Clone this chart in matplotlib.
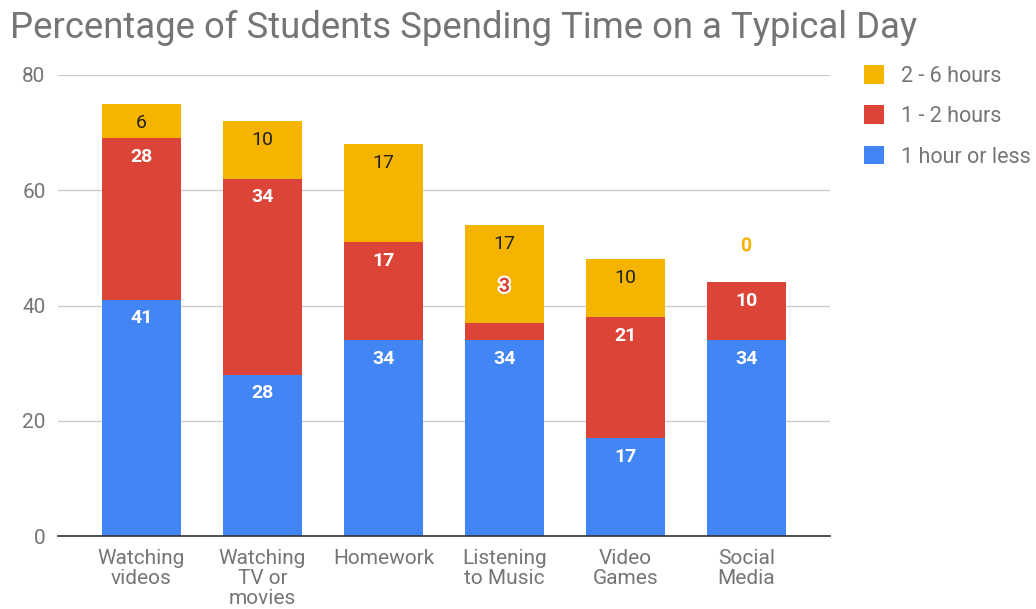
import matplotlib
matplotlib.use("Agg")
import matplotlib.pyplot as plt
import matplotlib.patheffects as pe
from matplotlib.patches import Patch
import numpy as np

categories = ["Watching\nvideos", "Watching\nTV or\nmovies", "Homework",
              "Listening\nto Music", "Video\nGames", "Social\nMedia"]
series_names = ["1 hour or less", "1 - 2 hours", "2 - 6 hours"]
one_hour_or_less = [41, 28, 34, 34, 17, 34]
one_to_two_hours = [28, 34, 17, 3, 21, 10]
two_to_six_hours = [6, 10, 17, 17, 10, 0]
y_ticks = [0, 20, 40, 60, 80]

colors = ["#4285F4", "#DB4437", "#F4B400"]
label_colors = ["white", "white", "#222222"]
label_weights = ["bold", "bold", "normal"]
gray = "#757575"

plt.rcParams['font.family'] = ['Roboto', 'DejaVu Sans']

fig = plt.figure(figsize=(10.36, 6.09), dpi=100)
ax = fig.add_axes([58/1036, 1-536/609, (830-58)/1036, (536-75)/609])

x = np.arange(len(categories))
width = 0.645
bottom = np.zeros(len(categories))
all_series = [one_hour_or_less, one_to_two_hours, two_to_six_hours]
for i, vals in enumerate(all_series):
    vals = np.array(vals, dtype=float)
    ax.bar(x, vals, width, bottom=bottom, color=colors[i], zorder=3, linewidth=0)
    tops = bottom + vals
    for xi, v, t in zip(x, vals, tops):
        if v >= 5:
            ax.annotate(f"{int(v)}", (xi, t), xytext=(0, -13.5), textcoords="offset points",
                        ha="center", va="center", fontsize=14, fontweight=label_weights[i],
                        color=label_colors[i], zorder=5)
        else:
            ax.annotate(f"{int(v)}", (xi, t), xytext=(0, 26), textcoords="offset points",
                        ha="center", va="center", fontsize=14, fontweight="bold",
                        color=colors[i], zorder=5,
                        path_effects=[pe.withStroke(linewidth=3, foreground="white")])
    bottom = tops

ax.set_xlim(-0.69, len(categories) - 1 + 0.69)
ax.set_ylim(0, 80)
ax.set_yticks(y_ticks)
ax.set_yticklabels([str(t) for t in y_ticks])
ax.set_xticks(x)
ax.set_xticklabels(categories, linespacing=1.1)
ax.tick_params(axis="both", length=0, labelsize=15, labelcolor=gray)
ax.tick_params(axis="y", pad=9)
ax.tick_params(axis="x", pad=9)
ax.grid(axis="y", color="#cccccc", linewidth=1, zorder=0)
for s in ["top", "right", "left"]:
    ax.spines[s].set_visible(False)
ax.spines["bottom"].set_color("#333333")
ax.spines["bottom"].set_linewidth(1.2)
ax.spines["bottom"].set_zorder(4)

fig.text(10/1036, 1-28/609, "Percentage of Students Spending Time on a Typical Day",
         fontsize=26.3, color=gray, ha="left", va="center")

handles = [Patch(facecolor=colors[i]) for i in [2, 1, 0]]
labels = [series_names[i] for i in [2, 1, 0]]
fig.legend(handles, labels, loc="upper left", bbox_to_anchor=(864/1036, 1-65/609),
           frameon=False, fontsize=15.5, labelcolor=gray, handlelength=0.95,
           handleheight=0.95, labelspacing=0.87, handletextpad=0.75, borderpad=0,
           borderaxespad=0)

fig.savefig("out.png", dpi=100)
